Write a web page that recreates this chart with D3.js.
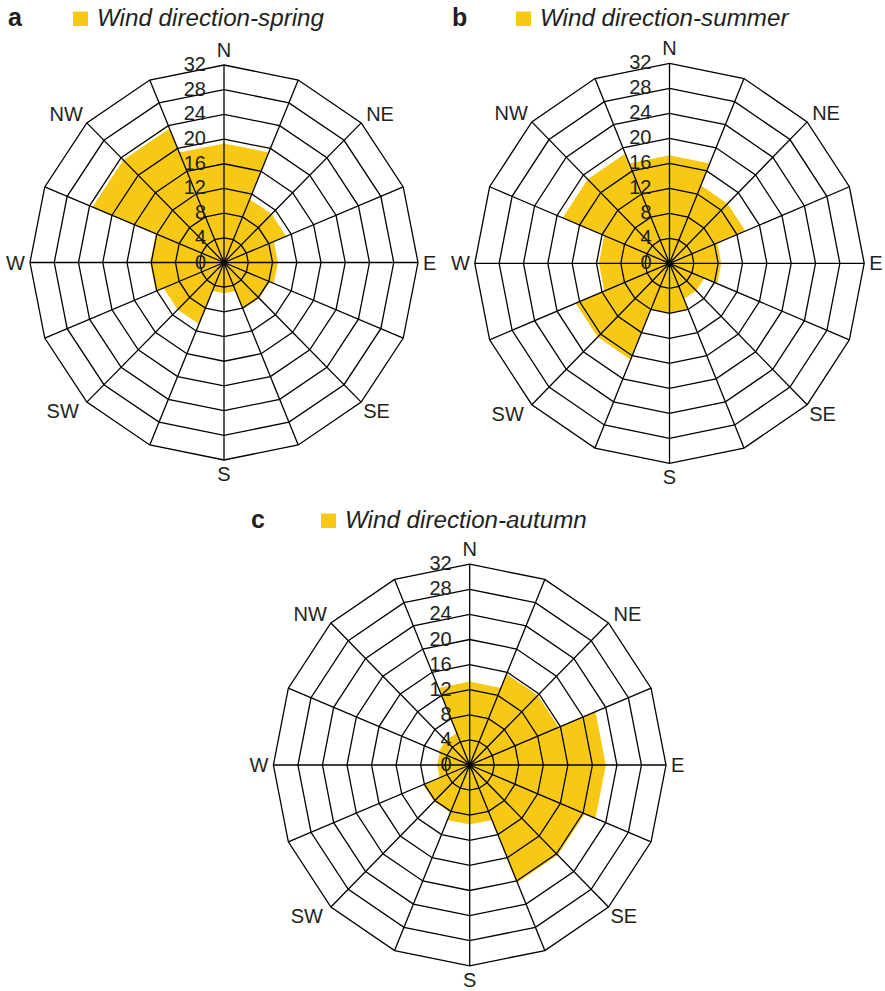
<!DOCTYPE html>
<html>
<head>
<meta charset="utf-8">
<script src="https://cdn.jsdelivr.net/npm/d3@7/dist/d3.min.js"></script>
<style>
  html, body { margin: 0; padding: 0; background: #fff; }
  svg { display: block; }
  text { font-family: "Liberation Sans", Arial, Helvetica, sans-serif; fill: #231f20; }
</style>
</head>
<body>
<svg id="chart" width="885" height="991"></svg>
<script>
// Wind direction frequency (%) per compass sector, by season
const directions = ["N", "NE", "E", "SE", "S", "SW", "W", "NW"];
const spring = [19.3, 11.1, 8.9, 8.2, 5.0, 10.8, 12.2, 23.5];
const summer = [17.3, 13.5, 8.5, 6.2, 8.0, 16.7, 11.6, 19.0];
const autumn = [13.3, 15.7, 22.2, 20.3, 9.5, 8.2, 5.3, 5.5];
const ringTicks = [0, 4, 8, 12, 16, 20, 24, 28, 32];
const seasons = ["spring", "summer", "autumn"];
const panelLetters = ["a", "b", "c"];

const FILL = "#f8c914";
const svg = d3.select("#chart");

// panel geometry: centre, horizontal radius, vertical radius
const panels = [
  { letter: panelLetters[0], season: seasons[0], values: spring, cx: 224, cy: 262.5, rx: 194, ry: 197.5,
    titleX: 8, keyX: 73, titleY: 26 },
  { letter: panelLetters[1], season: seasons[1], values: summer, cx: 669.5, cy: 263.3, rx: 194.7, ry: 200,
    titleX: 452, keyX: 516, titleY: 26 },
  { letter: panelLetters[2], season: seasons[2], values: autumn, cx: 469.7, cy: 765, rx: 196.3, ry: 200.8,
    titleX: 251, keyX: 321, titleY: 528 }
];

const nSpokes = 16;
const step = 2 * Math.PI / nSpokes;

panels.forEach(p => {
  const r = d3.scaleLinear().domain([0, 32]).range([0, p.rx]);
  const ky = p.ry / p.rx;
  const g = svg.append("g");

  // header: panel letter, colour key and series name
  g.append("text")
    .attr("x", p.titleX).attr("y", p.titleY)
    .attr("font-size", 25).attr("font-weight", "bold")
    .text(p.letter);
  g.append("rect")
    .attr("x", p.keyX).attr("y", p.titleY - 14.5)
    .attr("width", 15).attr("height", 14.5)
    .attr("fill", FILL);
  g.append("text")
    .attr("x", p.keyX + 24).attr("y", p.titleY)
    .attr("font-size", 24.2).attr("font-style", "italic")
    .text("Wind direction-" + p.season);

  const plot = g.append("g")
    .attr("transform", `translate(${p.cx},${p.cy}) scale(1,${ky})`);

  // each compass direction covers a 45° sector; its outer edge follows the 16-gon grid
  const pts = [];
  p.values.forEach((v, i) => {
    const a = i * Math.PI / 4;
    pts.push({ a: a - step, v }, { a, v }, { a: a + step, v });
  });
  const sectorLine = d3.lineRadial()
    .angle(d => d.a)
    .radius(d => r(d.v))
    .curve(d3.curveLinearClosed);
  plot.append("path")
    .attr("d", sectorLine(pts))
    .attr("fill", FILL)
    .attr("stroke", "none");

  // concentric 16-gon rings
  const ringLine = d3.lineRadial()
    .angle((d, k) => k * step)
    .radius(d => r(d))
    .curve(d3.curveLinearClosed);
  plot.selectAll("path.ring")
    .data(ringTicks.filter(t => t > 0))
    .join("path")
    .attr("class", "ring")
    .attr("d", t => ringLine(d3.range(nSpokes).map(() => t)))
    .attr("fill", "none")
    .attr("stroke", "#000")
    .attr("stroke-width", 1.3)
    .attr("vector-effect", "non-scaling-stroke")
    .attr("stroke-linejoin", "miter");

  // spokes
  plot.selectAll("line.spoke")
    .data(d3.range(nSpokes))
    .join("line")
    .attr("class", "spoke")
    .attr("x1", 0).attr("y1", 0)
    .attr("x2", k => r(32) * Math.sin(k * step))
    .attr("y2", k => -r(32) * Math.cos(k * step))
    .attr("stroke", "#000")
    .attr("stroke-width", 1.3)
    .attr("vector-effect", "non-scaling-stroke");

  // value labels along the north spoke
  g.selectAll("text.tick")
    .data(ringTicks)
    .join("text")
    .attr("class", "tick")
    .attr("x", p.cx - 18)
    .attr("y", t => p.cy - r(t) * ky + 6)
    .attr("text-anchor", "end")
    .attr("font-size", 20)
    .text(t => t);

  // compass labels
  const R = r(32), RY = R * ky;
  const d45x = R * Math.SQRT1_2, d45y = RY * Math.SQRT1_2;
  const compass = [
    { t: "N",  x: p.cx,            y: p.cy - RY - 8,    anchor: "middle" },
    { t: "NE", x: p.cx + d45x + 5, y: p.cy - d45y - 2,  anchor: "start" },
    { t: "E",  x: p.cx + R + 5,    y: p.cy + 7,         anchor: "start" },
    { t: "SE", x: p.cx + d45x + 2, y: p.cy + d45y + 16, anchor: "start" },
    { t: "S",  x: p.cx,            y: p.cy + RY + 21,   anchor: "middle" },
    { t: "SW", x: p.cx - d45x - 8, y: p.cy + d45y + 16, anchor: "end" },
    { t: "W",  x: p.cx - R - 5,    y: p.cy + 7,         anchor: "end" },
    { t: "NW", x: p.cx - d45x - 4, y: p.cy - d45y - 2,  anchor: "end" }
  ];
  g.selectAll("text.dir")
    .data(compass)
    .join("text")
    .attr("class", "dir")
    .attr("x", d => d.x).attr("y", d => d.y)
    .attr("text-anchor", d => d.anchor)
    .attr("font-size", 20)
    .text(d => d.t);
});
</script>
</body>
</html>
